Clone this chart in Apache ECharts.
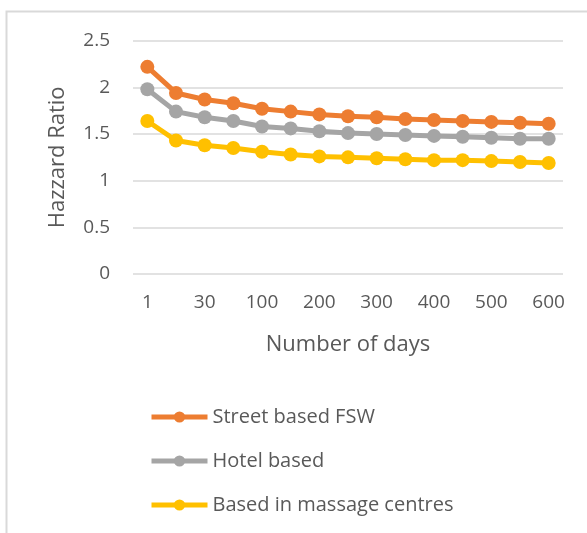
<!DOCTYPE html>
<html>
<head>
<meta charset="utf-8">
<script src="https://cdn.jsdelivr.net/npm/echarts@6/dist/echarts.min.js"></script>
<style>
  html, body { margin: 0; padding: 0; background: #fff; }
  #chart { width: 587px; height: 533px; }
</style>
</head>
<body>
<div id="chart"></div>
<script>
  // days; only every other one gets a label on the axis
  const days = ["1", "15", "30", "60", "100", "150", "200", "250", "300", "350", "400", "450", "500", "550", "600"];

  const streetBased = [2.22, 1.94, 1.87, 1.83, 1.77, 1.74, 1.71, 1.69, 1.68, 1.66, 1.65, 1.64, 1.63, 1.62, 1.61];
  const hotelBased = [1.98, 1.74, 1.68, 1.64, 1.58, 1.56, 1.53, 1.51, 1.50, 1.49, 1.48, 1.47, 1.46, 1.45, 1.45];
  const massageBased = [1.64, 1.43, 1.38, 1.35, 1.31, 1.28, 1.26, 1.25, 1.24, 1.23, 1.22, 1.22, 1.21, 1.20, 1.19];

  const txt = "#595959";
  const font = "'Open Sans', 'Liberation Sans', sans-serif";

  const chart = echarts.init(document.getElementById("chart"), null, { renderer: "canvas" });

  function lineSeries(name, data, color) {
    return {
      name: name,
      type: "line",
      data: data,
      symbol: "circle",
      symbolSize: 14,
      lineStyle: { color: color, width: 5 },
      itemStyle: { color: color },
      animation: false
    };
  }

  chart.setOption({
    animation: false,
    textStyle: { fontFamily: font, color: txt },
    graphic: [
      {
        type: "rect",
        shape: { x: 6.5, y: 11.5, width: 700, height: 700 },
        style: { fill: "none", stroke: "#d9d9d9", lineWidth: 2 },
        silent: true
      }
    ],
    grid: { left: 133, right: 24, top: 40.7, height: 233.3, containLabel: false },
    xAxis: {
      type: "category",
      data: days,
      boundaryGap: true,
      name: "Number of days",
      nameLocation: "middle",
      nameGap: 60,
      nameTextStyle: { fontSize: 22, color: txt, fontFamily: font },
      axisLine: { show: false },
      axisTick: { show: false },
      axisLabel: { interval: 1, fontSize: 19, color: txt, margin: 19, fontFamily: font }
    },
    yAxis: {
      type: "value",
      min: 0,
      max: 2.5,
      interval: 0.5,
      name: "Hazzard Ratio",
      nameLocation: "middle",
      nameGap: 64,
      nameTextStyle: { fontSize: 22, color: txt, fontFamily: font },
      axisLine: { show: false },
      axisTick: { show: false },
      axisLabel: { fontSize: 19, color: txt, margin: 23, fontFamily: font },
      splitLine: { lineStyle: { color: "#d9d9d9", width: 1.5 } }
    },
    legend: {
      orient: "vertical",
      left: 144,
      top: 402,
      itemGap: 24,
      itemWidth: 56,
      itemHeight: 14,
      lineStyle: { width: 5 },
      itemStyle: { borderWidth: 0 },
      textStyle: { fontSize: 20, color: txt, fontFamily: font },
      data: ["Street based FSW", "Hotel based", "Based in massage centres"]
    },
    series: [
      lineSeries("Street based FSW", streetBased, "#ed7d31"),
      lineSeries("Hotel based", hotelBased, "#a5a5a5"),
      lineSeries("Based in massage centres", massageBased, "#ffc000")
    ]
  });
</script>
</body>
</html>
